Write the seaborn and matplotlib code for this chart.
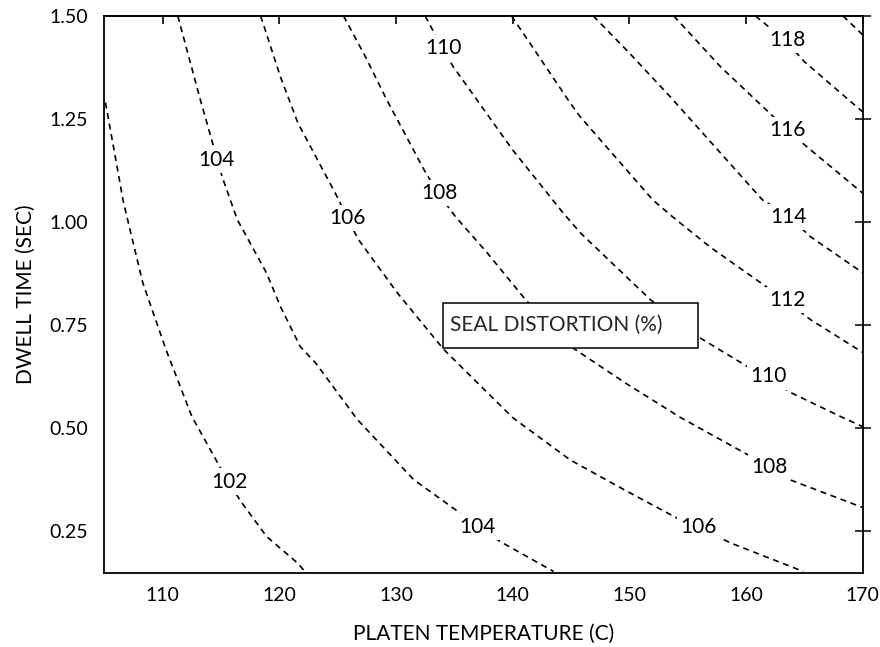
import numpy as np
import pandas as pd
import matplotlib
matplotlib.use("Agg")
import matplotlib.pyplot as plt
from matplotlib.patches import Rectangle
import seaborn as sns

# ---- contour lines (temperature C, dwell time s) ----
levels = [102, 104, 106, 108, 110, 112, 114, 116, 118, 120]
c102_x = [105.1, 106.1, 106.6, 107.0, 108.3, 110.3, 112.5, 114.9, 116.6, 118.9, 121.5, 122.2]
c102_y = [1.29, 1.134, 1.054, 1.006, 0.853, 0.69, 0.529, 0.407, 0.327, 0.238, 0.175, 0.153]
c104_x = [111.3, 113.2, 114.3, 115.1, 116.4, 118.9, 120.1, 121.8, 123.1, 126.7, 131.5, 137.0, 138.9, 143.5]
c104_y = [1.50, 1.30, 1.19, 1.11, 1.006, 0.877, 0.795, 0.698, 0.659, 0.521, 0.376, 0.264, 0.226, 0.153]
c106_x = [118.4, 120.1, 121.6, 125.1, 125.8, 126.8, 130.1, 134.1, 140.0, 144.9, 149.5, 154.3, 156.0, 158.6, 164.9]
c106_y = [1.50, 1.352, 1.24, 1.054, 1.01, 0.957, 0.829, 0.691, 0.526, 0.424, 0.352, 0.279, 0.26, 0.223, 0.153]
c108_x = [125.5, 127.4, 129.2, 132.4, 133.6, 135.1, 137.8, 141.1, 145.0, 149.6, 154.4, 162.0, 163.7, 170.0]
c108_y = [1.50, 1.40, 1.297, 1.127, 1.07, 1.013, 0.926, 0.812, 0.698, 0.611, 0.526, 0.407, 0.376, 0.308]
c110_x = [132.5, 134.0, 134.9, 140.0, 144.3, 145.8, 151.8, 155.9, 160.1, 161.8, 163.8, 168.3, 170.0]
c110_y = [1.50, 1.42, 1.377, 1.175, 1.023, 0.974, 0.812, 0.722, 0.65, 0.625, 0.587, 0.526, 0.504]
c112_x = [139.9, 144.9, 145.8, 152.0, 153.7, 156.9, 163.3, 165.5, 170.0]
c112_y = [1.50, 1.29, 1.255, 1.054, 1.013, 0.94, 0.812, 0.764, 0.684]
c114_x = [146.9, 150.0, 153.5, 161.4, 163.5, 165.5, 170.0]
c114_y = [1.50, 1.41, 1.304, 1.054, 1.018, 0.965, 0.877]
c116_x = [153.8, 157.8, 162.0, 163.5, 165.2, 170.0]
c116_y = [1.50, 1.377, 1.265, 1.224, 1.183, 1.07]
c118_x = [160.8, 163.3, 165.0, 170.0]
c118_y = [1.50, 1.442, 1.389, 1.267]
c120_x = [168.3, 170.0]
c120_y = [1.50, 1.454]

# contour label texts and where they sit
label_text = ["102", "104", "106", "108", "110", "104", "106", "108", "110", "112", "114", "116", "118"]
label_x = [115.7, 114.6, 125.8, 133.7, 134.1, 137.0, 155.9, 162.0, 161.9, 163.5, 163.6, 163.5, 163.5]
label_y = [0.371, 1.151, 1.011, 1.071, 1.422, 0.262, 0.262, 0.407, 0.626, 0.812, 1.013, 1.224, 1.442]

x_ticks = [110, 120, 130, 140, 150, 160, 170]
y_ticks = [0.25, 0.50, 0.75, 1.00, 1.25, 1.50]

curves_x = [c102_x, c104_x, c106_x, c108_x, c110_x, c112_x, c114_x, c116_x, c118_x, c120_x]
curves_y = [c102_y, c104_y, c106_y, c108_y, c110_y, c112_y, c114_y, c116_y, c118_y, c120_y]
frames = []
for lev, xs, ys in zip(levels, curves_x, curves_y):
    frames.append(pd.DataFrame({"temp": xs, "dwell": ys, "level": lev}))
df = pd.concat(frames, ignore_index=True)

sns.set_theme(style="white")
plt.rcParams['font.family'] = ['Lato', 'DejaVu Sans']
FS = 15
TFS = 14

fig = plt.figure(figsize=(8.8, 6.47), dpi=100)
ax = fig.add_axes([0.1185, 0.1148, 0.8620, 0.8605])

sns.lineplot(data=df, x="temp", y="dwell", units="level", estimator=None,
             sort=False, color="black", linewidth=1.2, ax=ax, legend=False)
for ln in ax.lines:
    ln.set_linestyle((0, (3.6, 2.8)))

for t, lx, ly in zip(label_text, label_x, label_y):
    ax.text(lx, ly, t, ha="center", va="center", fontsize=FS, color="black",
            zorder=5, bbox=dict(boxstyle="square,pad=0.15", fc="white", ec="none"))

# title box inside the plot
ax.add_patch(Rectangle((134.0, 0.696), 21.9, 0.109, fc="white", ec="black",
                       lw=1.1, zorder=6))
ax.text(134.6, 0.752, "SEAL DISTORTION (%)", ha="left", va="center",
        fontsize=FS, zorder=7)

ax.set_xlim(105, 170)
ax.set_ylim(0.15, 1.50)
ax.set_xticks(x_ticks)
ax.set_xticklabels([str(v) for v in x_ticks])
ax.set_yticks(y_ticks)
ax.set_yticklabels([f"{v:.2f}" for v in y_ticks])

for s in ax.spines.values():
    s.set_color("black")
    s.set_linewidth(1.3)

ax.tick_params(axis="both", which="major", labelsize=TFS, colors="black",
               direction="inout", length=11, width=1.1)
ax.tick_params(axis="x", pad=5)
ax.tick_params(axis="y", pad=6, right=True)

# top axis: short inward ticks, no labels
top = ax.secondary_xaxis("top")
top.set_xticks(x_ticks)
top.tick_params(direction="in", length=6, width=1.2, colors="black", labeltop=False)
top.spines["top"].set_linewidth(1.3)

ax.set_xlabel("PLATEN TEMPERATURE (C)", fontsize=FS, color="black", labelpad=14)
ax.set_ylabel("DWELL TIME (SEC)", fontsize=FS, color="black", labelpad=10)

fig.savefig("out.png", dpi=100, facecolor="white")
